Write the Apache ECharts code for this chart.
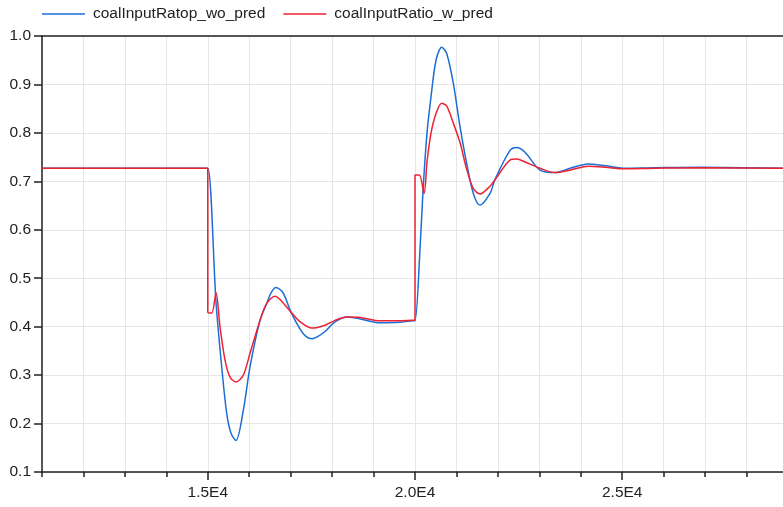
<!DOCTYPE html>
<html>
<head>
<meta charset="utf-8">
<script src="https://cdn.jsdelivr.net/npm/echarts@6/dist/echarts.min.js"></script>
<style>
  html, body { margin: 0; padding: 0; background: #fff; }
  #chart { width: 783px; height: 507px; }
</style>
</head>
<body>
<div id="chart"></div>
<script>
// data
const seriesNames = ['coalInputRatop_wo_pred', 'coalInputRatio_w_pred']

const blueX = [11000, 14900, 15000, 15199, 15336, 15457, 15561, 15681, 15857, 16019, 16260, 16422, 16526, 16646, 16815, 17008, 17226, 17370, 17515, 17660, 17829, 18070, 18360, 18673, 19156, 19638, 19950, 20000,
  20121, 20193, 20290, 20387, 20507, 20645, 20765, 20925, 21086, 21247, 21407, 21569, 21810, 21931, 22293, 22455, 22655, 23017, 23379, 23780, 24175, 24600, 25020, 25800, 26878, 28880]
const blueY = [0.727, 0.727, 0.727, 0.45, 0.317, 0.221, 0.18, 0.165, 0.227, 0.317, 0.413, 0.448, 0.47, 0.481, 0.47, 0.43, 0.395, 0.38, 0.375, 0.38, 0.39, 0.41, 0.42, 0.416, 0.408, 0.409, 0.412, 0.412,
  0.56, 0.68, 0.8, 0.875, 0.95, 0.977, 0.964, 0.902, 0.813, 0.737, 0.675, 0.651, 0.675, 0.704, 0.764, 0.77, 0.76, 0.723, 0.718, 0.728, 0.736, 0.732, 0.727, 0.728, 0.729, 0.727]

const redX = [11000, 14900, 15000, 15000, 15095, 15199, 15295, 15416, 15536, 15681, 15857, 16019, 16260, 16422, 16622, 16743, 17008, 17226, 17515, 17829, 18070, 18360, 18673, 19156, 19638, 19950, 20000, 20000,
  20105, 20218, 20290, 20387, 20507, 20645, 20765, 20925, 21086, 21247, 21407, 21569, 21810, 21931, 22293, 22455, 22655, 23017, 23379, 23780, 24175, 24600, 25020, 25800, 26878, 28880]
const redY = [0.727, 0.727, 0.727, 0.43, 0.428, 0.47, 0.4, 0.331, 0.296, 0.286, 0.3, 0.345, 0.413, 0.448, 0.463, 0.456, 0.43, 0.41, 0.397, 0.403, 0.413, 0.42, 0.419, 0.412, 0.412, 0.413, 0.413, 0.713,
  0.713, 0.675, 0.74, 0.8, 0.84, 0.861, 0.855, 0.82, 0.78, 0.725, 0.685, 0.674, 0.69, 0.703, 0.744, 0.746, 0.74, 0.727, 0.718, 0.724, 0.731, 0.729, 0.726, 0.727, 0.728, 0.727]

const xMin = 11000
const xMax = 29000
const xLabelValues = [15000, 20000, 25000]

const pairs = (xs, ys) => xs.map((x, i) => [x, ys[i]])

const chart = echarts.init(document.getElementById('chart'))

const axisColor = '#222'
const gridColor = '#e6e6e6'
const fontSize = 15.5

chart.setOption({
  backgroundColor: '#fff',
  animation: false,
  textStyle: { fontFamily: 'Liberation Sans, Arial, sans-serif' },
  legend: {
    top: 6,
    left: 42,
    padding: 0,
    icon: 'rect',
    itemWidth: 43,
    itemHeight: 1.5,
    itemGap: 18,
    textStyle: { fontSize: fontSize, color: '#222', padding: [0, 0, 0, 3] },
    data: seriesNames,
  },
  grid: {
    left: 42,
    top: 36,
    right: -5,
    bottom: 35,
    outerBoundsMode: 'none',
  },
  xAxis: [
    {
      type: 'value',
      min: xMin,
      max: xMax,
      interval: 1000,
      axisLine: { lineStyle: { color: axisColor, width: 1.5 } },
      axisTick: { length: 5, lineStyle: { color: axisColor, width: 1.5 } },
      axisLabel: { show: false },
      splitLine: { lineStyle: { color: gridColor, width: 1 } },
    },
    {
      type: 'value',
      position: 'bottom',
      min: xMin,
      max: xMax,
      axisLine: { show: false },
      axisTick: {
        length: 8,
        customValues: xLabelValues,
        lineStyle: { color: axisColor, width: 1.5 },
      },
      axisLabel: {
        customValues: xLabelValues,
        margin: 13,
        fontSize: fontSize,
        color: '#222',
        formatter: (v) => (v / 10000).toFixed(1) + 'E4',
      },
      splitLine: { show: false },
    },
    {
      type: 'value',
      position: 'top',
      min: xMin,
      max: xMax,
      axisLine: { lineStyle: { color: axisColor, width: 1.5 } },
      axisTick: { show: false },
      axisLabel: { show: false },
      splitLine: { show: false },
    },
  ],
  yAxis: {
    type: 'value',
    min: 0.1,
    max: 1.0,
    interval: 0.1,
    axisLine: { show: true, lineStyle: { color: axisColor, width: 1.5 } },
    axisTick: { show: true, length: 8, lineStyle: { color: axisColor, width: 1.5 } },
    axisLabel: {
      fontSize: fontSize,
      color: '#222',
      margin: 11,
      formatter: (v) => v.toFixed(1),
    },
    splitLine: { lineStyle: { color: gridColor, width: 1 } },
  },
  series: [
    {
      name: seriesNames[0],
      type: 'line',
      symbol: 'none',
      smooth: 0.3,
      lineStyle: { color: '#1c6ed4', width: 1.5 },
      itemStyle: { color: '#1c6ed4' },
      data: pairs(blueX, blueY),
    },
    {
      name: seriesNames[1],
      type: 'line',
      symbol: 'none',
      smooth: 0.3,
      lineStyle: { color: '#ee2233', width: 1.5 },
      itemStyle: { color: '#ee2233' },
      data: pairs(redX, redY),
    },
  ],
})
</script>
</body>
</html>
